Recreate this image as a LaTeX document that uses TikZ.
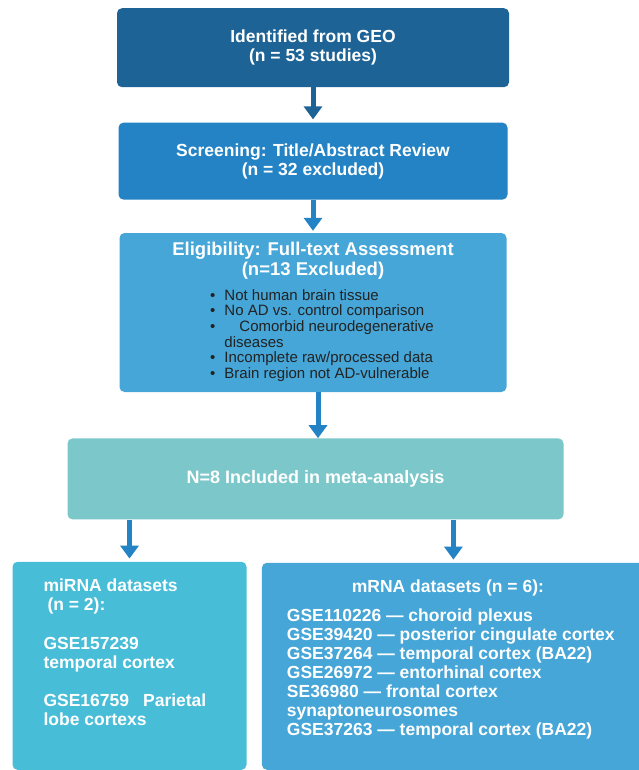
\documentclass[tikz,border=0pt]{standalone}
\usepackage{fontspec}
\setmainfont{Liberation Sans}
\usetikzlibrary{arrows.meta,positioning}
\definecolor{geoblue}{HTML}{1D6396}
\definecolor{screenblue}{HTML}{2383C4}
\definecolor{eligblue}{HTML}{45A6D7}
\definecolor{inclteal}{HTML}{7CC7CA}
\definecolor{mirnacyan}{HTML}{47BDD7}
\definecolor{listgray}{HTML}{222222}
\tikzset{
	box/.style={rounded corners=5pt, align=center, inner sep=0pt, text=white,
		font=\fontsize{17.5}{19}\selectfont\bfseries},
	arrow/.style={-{Triangle[width=18pt,length=13pt]}, line width=5pt, draw=screenblue},
}

\begin{document}
\begin{tikzpicture}[x=1pt, y=1pt, node distance=35pt]
	\useasboundingbox (0,0) rectangle (638,-770);
	
	%% ── Identified from GEO (top) ───────────────────────────────────
	\node[box, fill=geoblue, minimum width=392pt, minimum height=79pt,
	anchor=north] (geo) at (313,-8)
	{Identified from GEO\\(n = 53 studies)};
	
	%% ── Screening ───────────────────────────────────────────────────
	\node[box, fill=screenblue, minimum width=389pt, minimum height=77pt,
	below=35pt of geo] (screen)
	{Screening: Title/Abstract Review\\(n = 32 excluded)};
	
	%% ── Eligibility with exclusion reasons ──────────────────────────
	\node[box, fill=eligblue, minimum width=387pt, minimum height=159pt,
	font=\fontsize{18.5}{20}\selectfont\bfseries,
	below=33pt of screen] (elig)
	{
		Eligibility: Full-text Assessment\\(n=13 Excluded)\\[5pt]
		{\fontsize{15}{15.7}\selectfont\mdseries\color{listgray}%
			\hspace*{18pt}\begin{tabular}[t]{@{}l@{\hspace{9pt}}l@{}}
				\textbullet & Not human brain tissue\\
				\textbullet & No AD vs. control comparison\\
				\textbullet & \hspace{1em}Comorbid neurodegenerative\\
				& diseases\\
				\textbullet & Incomplete raw/processed data\\
				\textbullet & Brain region not AD-vulnerable
			\end{tabular}}
	};
	
	%% ── Included studies ────────────────────────────────────────────
	\node[box, fill=inclteal, minimum width=496pt, minimum height=81pt,
	font=\fontsize{18}{19}\selectfont\bfseries,
	below=46pt of elig, xshift=2.5pt] (incl)
	{N=8 Included in meta-analysis};
	
	%% ── miRNA datasets (bottom-left) ────────────────────────────────
	\node[box, fill=mirnacyan, minimum width=234pt, minimum height=208pt,
	below=42pt of incl.south west, anchor=north west, xshift=-55pt] (mirna)
	{\parbox[c][174pt][t]{172pt}{\raggedright\baselineskip=19.3pt
			miRNA datasets\\
			\hspace*{4pt}(n = 2):\\[19pt]
			GSE157239\\
			temporal cortex\\[19pt]
			GSE16759\hspace{14pt}Parietal\\
			lobe cortexs}};
	
	%% ── mRNA datasets (bottom-right) ────────────────────────────────
	\node[box, fill=eligblue, minimum width=383pt, minimum height=207pt,
	right=15pt of mirna.north east, anchor=north west, yshift=-1pt] (mrna)
	{\parbox[c][173pt][t]{333pt}{\raggedright
			\hspace*{65pt}mRNA datasets (n = 6):\\[10pt]
			GSE110226 — choroid plexus\\
			GSE39420 — posterior cingulate cortex\\
			GSE37264 — temporal cortex (BA22)\\
			GSE26972 — entorhinal cortex\\
			SE36980 — frontal cortex\\
			synaptoneurosomes\\
			GSE37263 — temporal cortex (BA22)}};
	
	%% ── Arrows ──────────────────────────────────────────────────────
	\draw[arrow, draw=geoblue, shorten >=3pt] (geo.south) -- (geo.south |- screen.north);
	\draw[arrow, shorten >=2pt] (screen.south) -- (screen.south |- elig.north);
	\draw[arrow] ([xshift=5pt]elig.south) -- ([xshift=5pt]elig.south |- incl.north);
	\draw[arrow, shorten >=3pt] (incl.south -| mirna.north) -- (mirna.north);
	\draw[arrow, shorten >=3pt] (incl.south -| mrna.north) -- (mrna.north);
	
\end{tikzpicture}
\end{document}
